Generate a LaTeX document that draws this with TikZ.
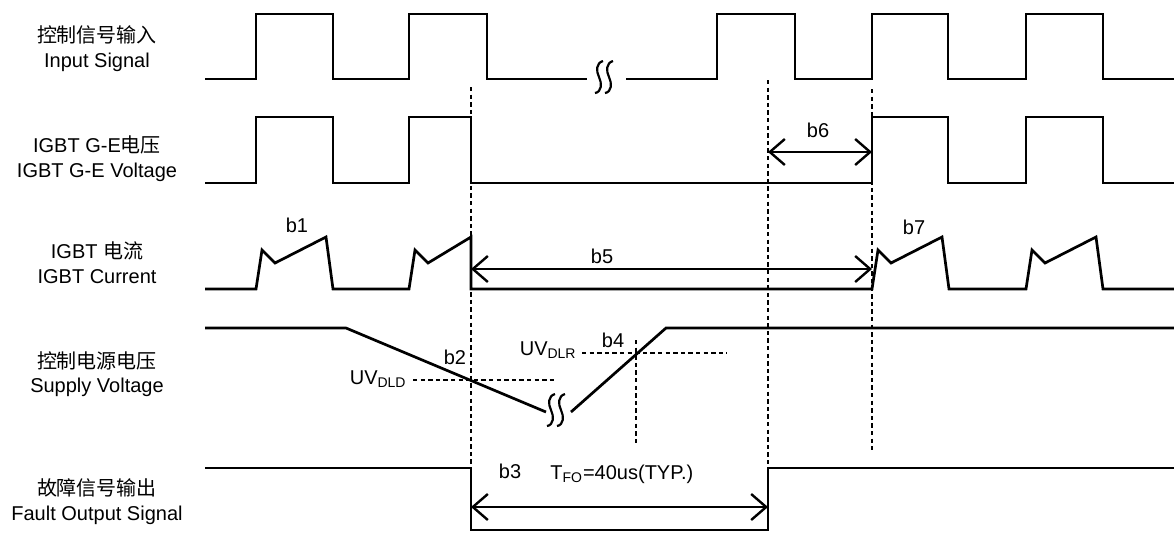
\documentclass[tikz,border=0pt]{standalone}
\usepackage{fontspec}
\setmainfont{Liberation Sans}
\newfontfamily\cjk{Noto Sans CJK SC}
\usetikzlibrary{arrows.meta}

\tikzset{
  sig/.style={line width=1.35pt, line join=miter},
  guide/.style={line width=1pt, dash pattern=on 2.2pt off 1.6pt},
  dim/.style={line width=1.2pt,
    {Straight Barb[length=7.5pt,width=13pt]}-{Straight Barb[length=7.5pt,width=13pt]}},
  lbl/.style={font=\fontsize{10pt}{12pt}\selectfont, inner sep=0pt},
  wave/.style={line width=1.1pt},
}

\begin{document}
\begin{tikzpicture}[x=0.5pt, y=-0.5pt]
    \useasboundingbox (0,0) rectangle (1174,532);

    % row names
    \node[lbl, anchor=base] (inCN)  at (97,42)  {\cjk 控制信号输入};
    \node[lbl, anchor=base] (inEN)  at (97,67)  {Input Signal};
    \node[lbl, anchor=base] (geCN)  at (97,152) {IGBT G-E{\cjk 电压}};
    \node[lbl, anchor=base] (geEN)  at (97,177) {IGBT G-E Voltage};
    \node[lbl, anchor=base] (icCN)  at (97,258) {IGBT {\cjk 电流}};
    \node[lbl, anchor=base] (icEN)  at (97,283) {IGBT Current};
    \node[lbl, anchor=base] (vdCN)  at (97,368) {\cjk 控制电源电压};
    \node[lbl, anchor=base] (vdEN)  at (97,392) {Supply Voltage};
    \node[lbl, anchor=base] (foCN)  at (97,495) {\cjk 故障信号输出};
    \node[lbl, anchor=base] (foEN)  at (97,520) {Fault Output Signal};

    % input signal
    \draw[sig] (205,79) -| (256,14) -| (333,79) -| (409,14) -| (487,79) -- (587,79);
    \draw[sig] (626,79) -| (717,14) -| (795,79) -| (872,14) -| (948,79)
               -| (1026,14) -| (1103,79) -- (1174,79);

    % gate voltage
    \draw[sig] (205,183) -| (256,117) -| (333,183) -| (409,117) -| (471,183)
               -| (872,117) -| (948,183) -| (1026,117) -| (1103,183) -- (1174,183);

    % collector current
    \draw[sig] (205,289) -- (256,289) -- (262,250) -- (275,263) -- (326,237) -- (333,289)
               -- (409,289) -- (415,250) -- (428,263) -- (471,237) -- (471,289)
               -- (872,289) -- (878,250) -- (891,263) -- (942,237) -- (949,289)
               -- (1026,289) -- (1032,250) -- (1045,263) -- (1096,237) -- (1103,289)
               -- (1174,289);

    % supply voltage
    \draw[sig] (205,328) -- (346,328) -- (546,412);
    \draw[sig] (571,412) -- (666,328) -- (1174,328);

    % fault output
    \draw[sig] (205,468) -| (471,530) -| (768,468) -- (1174,468);

    % breaks
    \foreach \x/\y in {599/60, 609/60, 551/393, 561/393}
    \draw[wave] (\x+4,\y+1) .. controls (\x-3,\y+3) and (\x-3,\y+11) .. (\x,\y+17)
                .. controls (\x+3,\y+23) and (\x+3,\y+32) .. (\x-4,\y+33);

    % guide lines
    \draw[guide] (471,87) -- (471,468);
    \draw[guide] (768,80) -- (768,468);
    \draw[guide] (872,89) -- (872,450);
    \draw[guide] (636,340) -- (636,443);
    \draw[guide] (413,380) -- (557,380);
    \draw[guide] (582,353) -- (727,353);

    % dimensions
    \coordinate (b6a) at (768,152);
    \coordinate (b6b) at (872,152);
    \coordinate (b5a) at (471,269);
    \coordinate (b5b) at (872,269);
    \coordinate (b3a) at (471,507);
    \coordinate (b3b) at (768,507);
    \draw[dim] (b6a) -- (b6b);
    \draw[dim] (b5a) -- (b5b);
    \draw[dim] (b3a) -- (b3b);

    \node[lbl, anchor=base] (b1) at (297,232) {b1};
    \node[lbl, anchor=base] (b2) at (455,364) {b2};
    \node[lbl, anchor=base] (b3) at (510,478) {b3};
    \node[lbl, anchor=base] (b4) at (613,347) {b4};
    \node[lbl, anchor=base] (b5) at (602,263) {b5};
    \node[lbl, anchor=base] (b6) at (818,137) {b6};
    \node[lbl, anchor=base] (b7) at (914,234) {b7};

    \node[lbl, anchor=base east] (uvd) at (407,384) {UV\textsubscript{DLD}};
    \node[lbl, anchor=base east] (uvr) at (577,355) {UV\textsubscript{DLR}};
    \node[lbl, anchor=base west] (tfo) at (550,479) {T\textsubscript{FO}=40us(TYP.)};

\end{tikzpicture}
\end{document}
